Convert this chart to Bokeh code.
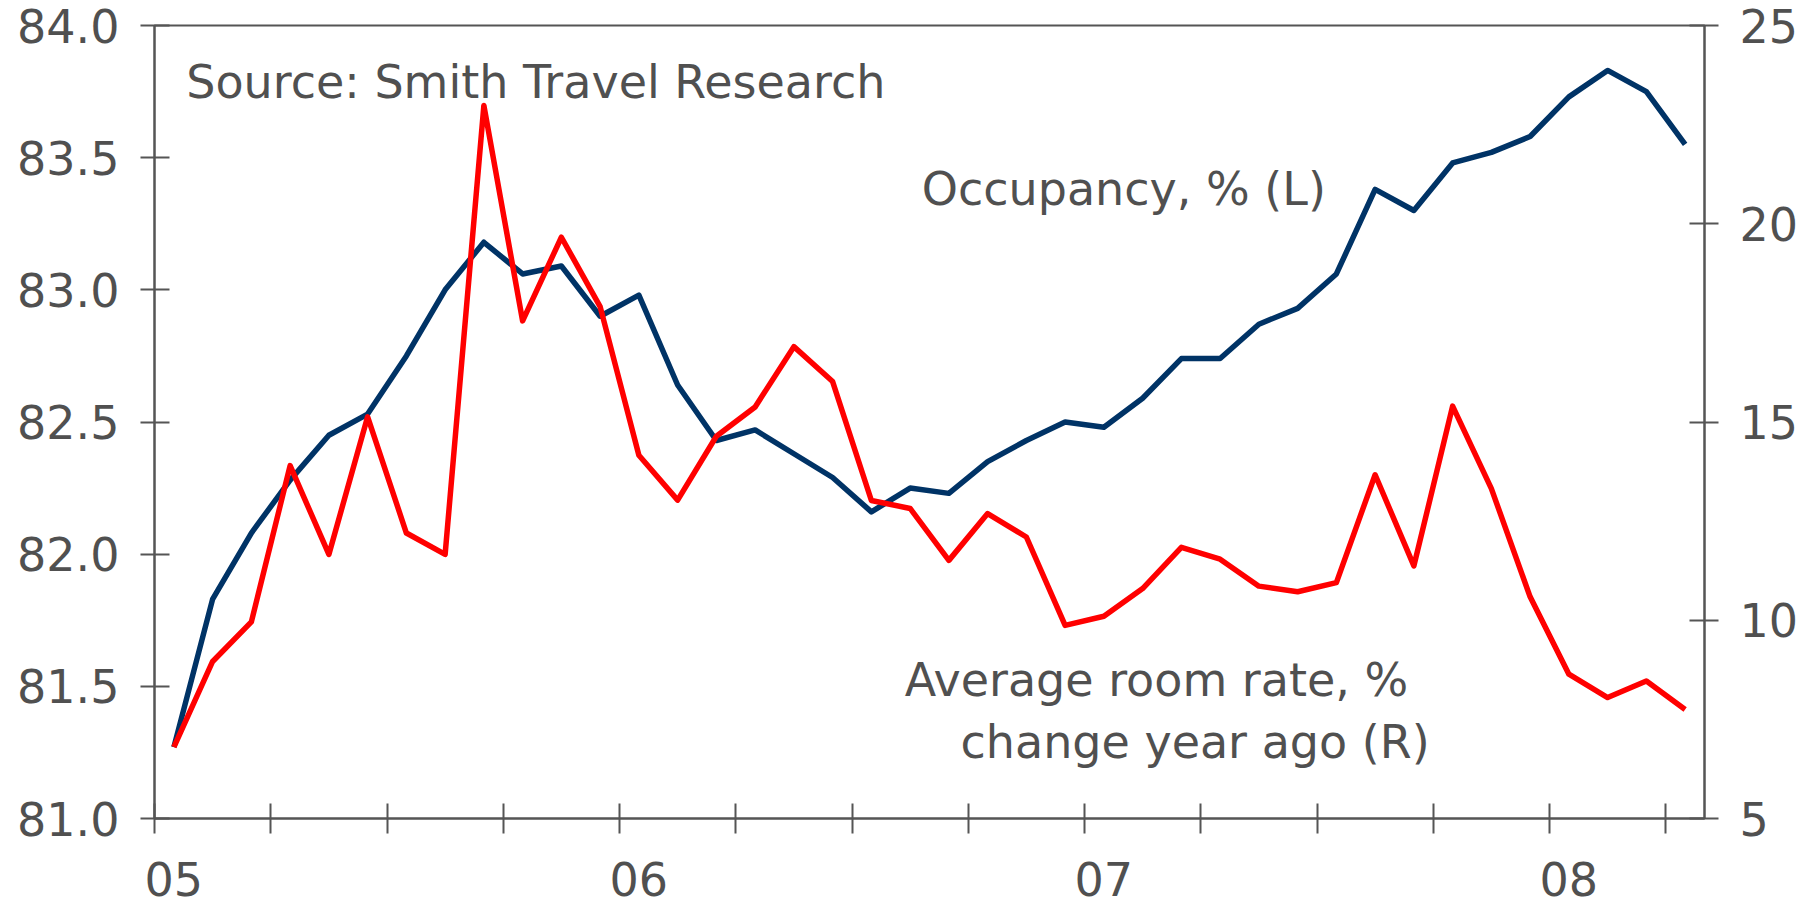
import pandas as pd
from bokeh.plotting import figure
from bokeh.models import Range1d, LinearAxis, FixedTicker, Label, PrintfTickFormatter
from bokeh.embed import file_html
from bokeh.resources import INLINE

# ---------------- data ----------------
months = pd.date_range("2005-01-01", periods=40, freq="MS").strftime("%Y-%m").tolist()

occupancy = [81.27, 81.83, 82.08, 82.28, 82.45, 82.53, 82.75, 83.00, 83.18, 83.06,
             83.09, 82.90, 82.98, 82.64, 82.43, 82.47, 82.38, 82.29, 82.16, 82.25,
             82.23, 82.35, 82.43, 82.50, 82.48, 82.59, 82.74, 82.74, 82.87, 82.93,
             83.06, 83.38, 83.30, 83.48, 83.52, 83.58, 83.73, 83.83, 83.75, 83.55]

room_rate = [6.80, 8.96, 9.96, 13.90, 11.66, 15.13, 12.20, 11.66, 22.98, 17.55,
             19.66, 17.91, 14.16, 13.03, 14.64, 15.38, 16.90, 16.02, 13.02, 12.82,
             11.51, 12.69, 12.10, 9.87, 10.10, 10.80, 11.84, 11.54, 10.86, 10.72,
             10.95, 13.67, 11.37, 15.40, 13.32, 10.59, 8.64, 8.05, 8.47, 7.75]

year_labels = ["05", "06", "07", "08"]
left_ticks = [81.0, 81.5, 82.0, 82.5, 83.0, 83.5, 84.0]
right_ticks = [5, 10, 15, 20, 25]

# ---------------- styling ----------------
FONT = "DejaVu Sans"
FS = "46px"
TXT = "#505050"
AX = "#555555"
BLUE = "#003366"
RED = "#FF0000"

n = len(months)
x = [i + 0.5 for i in range(n)]
year_pos = [months.index("20%s-01" % y) + 0.5 for y in year_labels]
quarter_ticks = list(range(0, n, 3))

p = figure(width=1818, height=906, x_range=Range1d(0, n), y_range=Range1d(left_ticks[0], left_ticks[-1]),
           output_backend="svg", toolbar_location=None,
           min_border_left=154, min_border_right=114, min_border_top=25, min_border_bottom=88)
p.extra_y_ranges = {"right": Range1d(right_ticks[0], right_ticks[-1])}

p.background_fill_color = "white"
p.border_fill_color = "white"
p.grid.visible = False
p.outline_line_color = AX
p.outline_line_width = 2

# bottom axis
xa = p.xaxis[0]
xa.ticker = FixedTicker(ticks=year_pos, minor_ticks=quarter_ticks)
xa.major_label_overrides = {pos: lab for pos, lab in zip(year_pos, year_labels)}
xa.major_tick_in = 0
xa.major_tick_out = 0
xa.minor_tick_in = 15
xa.minor_tick_out = 15
xa.minor_tick_line_color = AX
xa.minor_tick_line_width = 2
xa.axis_line_color = AX
xa.axis_line_width = 2
xa.major_label_standoff = 28
xa.major_label_text_font = FONT
xa.major_label_text_font_size = FS
xa.major_label_text_color = TXT

# left axis
ya = p.yaxis[0]
ya.ticker = FixedTicker(ticks=left_ticks, minor_ticks=[])
ya.formatter = PrintfTickFormatter(format="%.1f")
ya.major_tick_in = 15
ya.major_tick_out = 14
ya.major_tick_line_color = AX
ya.major_tick_line_width = 2
ya.axis_line_color = AX
ya.axis_line_width = 2
ya.major_label_standoff = 21
ya.major_label_text_font = FONT
ya.major_label_text_font_size = FS
ya.major_label_text_color = TXT

# right axis
ra = LinearAxis(y_range_name="right", ticker=FixedTicker(ticks=right_ticks, minor_ticks=[]))
ra.major_tick_in = 15
ra.major_tick_out = 14
ra.major_tick_line_color = AX
ra.major_tick_line_width = 2
ra.minor_tick_line_color = None
ra.axis_line_color = AX
ra.axis_line_width = 2
ra.major_label_standoff = 21
ra.major_label_text_font = FONT
ra.major_label_text_font_size = FS
ra.major_label_text_color = TXT
p.add_layout(ra, "right")

# lines
p.line(x, occupancy, line_color=BLUE, line_width=5.5, line_join="round")
p.line(x, room_rate, line_color=RED, line_width=5.5, line_join="round", y_range_name="right")

# text annotations
for tx, ty, t in [(0.82, 83.788, "Source: Smith Travel Research"),
                  (19.80, 83.3815, "Occupancy, % (L)"),
                  (19.36, 81.524, "Average room rate, %"),
                  (20.80, 81.2894, "change year ago (R)")]:
    p.add_layout(Label(x=tx, y=ty, text=t, text_font=FONT, text_font_size=FS,
                       text_color=TXT, text_align="left", text_baseline="alphabetic"))

open("out.html", "w").write(file_html(p, INLINE))
